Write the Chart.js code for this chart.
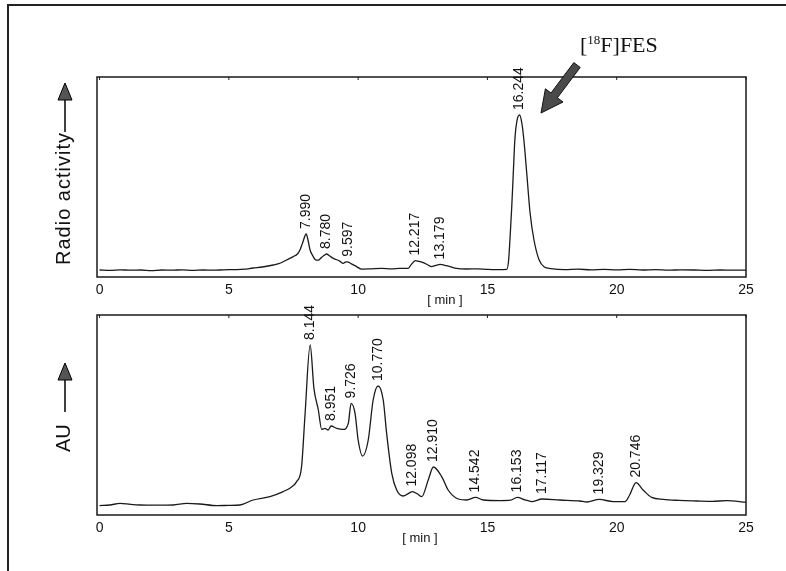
<!DOCTYPE html>
<html lang="en">
<head>
    <meta charset="UTF-8">
    <title>[18F]FES HPLC chromatograms</title>
    <script src="https://cdn.jsdelivr.net/npm/chart.js"></script>
    <style>
        body { margin: 0; background: #fff; }
        #wrap { position: relative; width: 786px; height: 571px; overflow: hidden; }
        #frame { position: absolute; left: 7px; top: 4px; width: 800px; height: 600px;
                 border-top: 2px solid #222; border-left: 2px solid #222; }
        canvas { position: absolute; left: 0; }
    </style>
</head>
<body>
<div id="wrap">
    <div id="frame"></div>
    <canvas id="radioChart" width="786" height="310" style="top:0"></canvas>
    <canvas id="uvChart" width="786" height="281" style="top:290px"></canvas>
</div>
<script>
    // x axis (minutes)
    const xTicks = [0, 5, 10, 15, 20, 25];

    // radio detector trace (arbitrary units, 0-100 = full panel height)
    const radioTimes = [0, 0.4, 0.8, 1.2, 1.6, 2.0, 2.4, 2.8, 3.2, 3.6, 4.0, 4.4, 4.8, 5.2, 5.6, 5.93, 6.3, 6.72, 7.0, 7.23,
        7.49, 7.65, 7.75, 7.85, 7.99, 8.06, 8.14, 8.25, 8.33, 8.45, 8.52, 8.65, 8.78, 8.9, 9.04, 9.2, 9.3, 9.42, 9.5, 9.597,
        9.68, 9.8, 9.94, 10.13, 10.5, 10.9, 11.3, 11.6, 11.94, 12.05, 12.217, 12.35, 12.52, 12.7, 12.84, 13.0, 13.179, 13.35,
        13.55, 13.8, 14.2, 14.6, 15.0, 15.4, 15.75, 15.82, 15.87, 15.94, 16.0, 16.06, 16.14, 16.244, 16.33, 16.41, 16.52,
        16.65, 16.8, 17.0, 17.2, 17.45, 18.0, 18.5, 19.0, 19.5, 20.0, 20.5, 21.0, 21.5, 22.0, 22.5, 23.0, 23.5, 24.0, 24.5, 25.0];
    const radioValues = [3.5, 3.3, 3.6, 3.4, 3.5, 3.2, 3.5, 3.4, 3.6, 3.3, 3.5, 3.4, 3.6, 3.7, 3.9, 4.5, 5.0, 6.0, 7.0, 8.5,
        10.2, 11.5, 13.5, 17, 21.5, 18.5, 13.5, 10.5, 8.8, 8.4, 9.0, 10.5, 11.5, 10.5, 9.3, 8.5, 7.8, 6.8, 7.4, 7.6,
        7.0, 6.2, 5.2, 3.9, 4.1, 4.3, 4.1, 4.3, 4.3, 6.2, 8.2, 7.8, 7.2, 6.0, 5.2, 5.8, 6.3, 5.8,
        5.2, 4.3, 4.0, 4.1, 3.8, 3.7, 3.8, 8.5, 18.5, 35, 52, 68.5, 78, 81, 77, 68.5, 52,
        32, 18.5, 8.5, 5.0, 4.2, 3.7, 3.9, 3.6, 3.8, 3.6, 3.8, 3.5, 3.7, 3.4, 3.6, 3.5, 3.3, 3.5, 3.4, 3.4];
    const radioPeaks = [7.99, 8.78, 9.597, 12.217, 13.179, 16.244];

    // UV detector trace (AU, 0-100 = full panel height)
    const uvTimes = [0, 0.4, 0.79, 1.2, 1.56, 2.2, 2.85, 3.37, 3.88, 4.53, 5.0, 5.43, 5.94, 6.59, 7.1, 7.4, 7.62, 7.81, 7.94,
        8.144, 8.29, 8.46, 8.59, 8.72, 8.84, 8.951, 9.17, 9.42, 9.62, 9.726, 9.88, 10.0, 10.17, 10.39, 10.58, 10.77, 10.97,
        11.1, 11.3, 11.49, 11.74, 11.95, 12.098, 12.3, 12.46, 12.71, 12.91, 13.23, 13.48, 13.87, 14.2, 14.542, 14.84, 15.48,
        15.9, 16.153, 16.45, 16.71, 17.117, 17.8, 18.58, 18.84, 19.329, 19.86, 20.32, 20.5, 20.746, 21.02, 21.35, 21.8, 22.4,
        23.09, 23.7, 24.25, 25.0];
    const uvValues = [4.7, 5.0, 5.8, 5.3, 5.0, 4.9, 5.0, 5.8, 5.5, 4.7, 4.8, 5.0, 7.5, 9.2, 11.7, 13.8, 16.7, 24, 49,
        85, 63.3, 52.5, 42.8, 43.3, 42.5, 44.5, 43.3, 42.8, 45.8, 55.8, 50.8, 37.5, 29.5, 37.5, 57.5, 64.5, 57.5,
        41, 20.8, 12.5, 9.5, 10.8, 11.7, 10.5, 9.2, 17.5, 24, 19.2, 12.5, 8.0, 7.5, 8.8, 7.5, 7.2,
        7.4, 8.8, 7.6, 6.7, 8.0, 7.5, 7.0, 6.5, 7.8, 6.7, 6.7, 10, 16.2, 12.5, 8.8, 7.8, 7.3,
        7.0, 6.8, 7.2, 6.4];
    const uvPeaks = [8.144, 8.951, 9.726, 10.77, 12.098, 12.91, 14.542, 16.153, 17.117, 19.329, 20.746];

    const sans = '"Liberation Sans", Arial, sans-serif';
    const serif = '"Liberation Serif", "Times New Roman", serif';

    // box, peak labels, y title with arrow, unit label, [18F]FES callout
    const decor = {
        id: 'decor',
        afterDatasetsDraw(chart, args, o) {
            const ctx = chart.ctx, a = chart.chartArea, xs = chart.scales.x, ys = chart.scales.y;
            ctx.save();
            ctx.strokeStyle = '#1a1a1a';
            ctx.lineWidth = 1.5;
            ctx.strokeRect(a.left, a.top, a.right - a.left, a.bottom - a.top);
            ctx.lineWidth = 1;
            xs.ticks.forEach(t => {
                const px = xs.getPixelForValue(t.value);
                ctx.beginPath();
                ctx.moveTo(px, a.top);
                ctx.lineTo(px, a.top + 3);
                ctx.stroke();
            });

            // peak retention times
            ctx.fillStyle = '#111';
            ctx.font = '14px ' + sans;
            ctx.textAlign = 'left';
            ctx.textBaseline = 'middle';
            o.peaks.forEach(t => {
                const i = o.times.indexOf(t);
                const px = xs.getPixelForValue(t);
                const py = ys.getPixelForValue(o.values[i]) - 5;
                ctx.save();
                ctx.translate(px, py);
                ctx.rotate(-Math.PI / 2);
                ctx.fillText(t.toFixed(3), 0, 0);
                ctx.restore();
            });

            // [ min ]
            ctx.textAlign = 'center';
            ctx.font = '13px ' + sans;
            ctx.fillText('[ min ]', o.unitX, a.bottom + 23);

            // y title + upward arrow
            const yt = o.yTitle;
            ctx.save();
            ctx.translate(70, a.bottom - yt.bottom);
            ctx.rotate(-Math.PI / 2);
            ctx.textAlign = 'left';
            ctx.textBaseline = 'alphabetic';
            ctx.font = '20px ' + sans;
            ctx.letterSpacing = yt.spacing;
            ctx.fillText(yt.text, 0, 0);
            ctx.restore();
            ctx.lineWidth = 1.5;
            ctx.strokeStyle = '#000';
            ctx.beginPath();
            ctx.moveTo(65, a.top + yt.line);
            ctx.lineTo(65, a.top + yt.head);
            ctx.stroke();
            ctx.beginPath();
            ctx.moveTo(65, a.top + yt.tip);
            ctx.lineTo(58, a.top + yt.head);
            ctx.lineTo(72, a.top + yt.head);
            ctx.closePath();
            ctx.fillStyle = '#555';
            ctx.fill();
            ctx.lineWidth = 1;
            ctx.stroke();

            if (o.callout) {
                // [18F]FES text
                ctx.fillStyle = '#111';
                ctx.textAlign = 'left';
                ctx.textBaseline = 'alphabetic';
                let tx = 580;
                ctx.font = '22px ' + serif;
                ctx.fillText('[', tx, 52);
                tx += ctx.measureText('[').width;
                ctx.font = '13px ' + serif;
                ctx.fillText('18', tx, 44);
                tx += ctx.measureText('18').width;
                ctx.font = '22px ' + serif;
                ctx.fillText('F]FES', tx, 52);

                // thick arrow pointing at the main peak
                const tail = [577, 65], tip = [541, 113];
                const dx = tip[0] - tail[0], dy = tip[1] - tail[1];
                const len = Math.hypot(dx, dy), ux = dx / len, uy = dy / len, nx = -uy, ny = ux;
                const bx = tip[0] - ux * 22, by = tip[1] - uy * 22;
                ctx.beginPath();
                ctx.moveTo(tail[0] + nx * 4, tail[1] + ny * 4);
                ctx.lineTo(bx + nx * 4, by + ny * 4);
                ctx.lineTo(bx + nx * 11, by + ny * 11);
                ctx.lineTo(tip[0], tip[1]);
                ctx.lineTo(bx - nx * 11, by - ny * 11);
                ctx.lineTo(bx - nx * 4, by - ny * 4);
                ctx.lineTo(tail[0] - nx * 4, tail[1] - ny * 4);
                ctx.closePath();
                ctx.fillStyle = '#4a4a4a';
                ctx.fill();
                ctx.strokeStyle = '#111';
                ctx.lineWidth = 1;
                ctx.stroke();
            }
            ctx.restore();
        }
    };

    function makeChart(id, times, values, peaks, padding, extra) {
        return new Chart(document.getElementById(id), {
            type: 'line',
            data: {
                datasets: [{
                    data: times.map((t, i) => ({ x: t, y: values[i] })),
                    borderColor: '#1a1a1a',
                    borderWidth: 1.3,
                    pointRadius: 0,
                    fill: false,
                    cubicInterpolationMode: 'monotone'
                }]
            },
            options: {
                responsive: false,
                animation: false,
                layout: { padding: padding },
                plugins: {
                    legend: { display: false },
                    tooltip: { enabled: false },
                    decor: Object.assign({ times: times, values: values, peaks: peaks }, extra)
                },
                scales: {
                    x: {
                        type: 'linear',
                        min: -0.1,
                        max: 25,
                        afterBuildTicks: s => { s.ticks = xTicks.map(v => ({ value: v })); },
                        afterFit: s => { s.height = 30; },
                        grid: { display: false, drawTicks: false },
                        border: { display: false },
                        ticks: { padding: 5, color: '#111', font: { size: 14, family: sans } }
                    },
                    y: { display: false, min: 0, max: 100 }
                }
            },
            plugins: [decor]
        });
    }

    makeChart('radioChart', radioTimes, radioValues, radioPeaks,
        { left: 97, right: 40, top: 77, bottom: 3 },
        { unitX: 445, callout: true,
          yTitle: { text: 'Radio activity', spacing: '1px', bottom: 12, line: 55, head: 23, tip: 6 } });

    makeChart('uvChart', uvTimes, uvValues, uvPeaks,
        { left: 97, right: 40, top: 25, bottom: 26 },
        { unitX: 420, callout: false,
          yTitle: { text: 'AU', spacing: '0px', bottom: 63, line: 97, head: 65, tip: 48 } });
</script>
</body>
</html>
